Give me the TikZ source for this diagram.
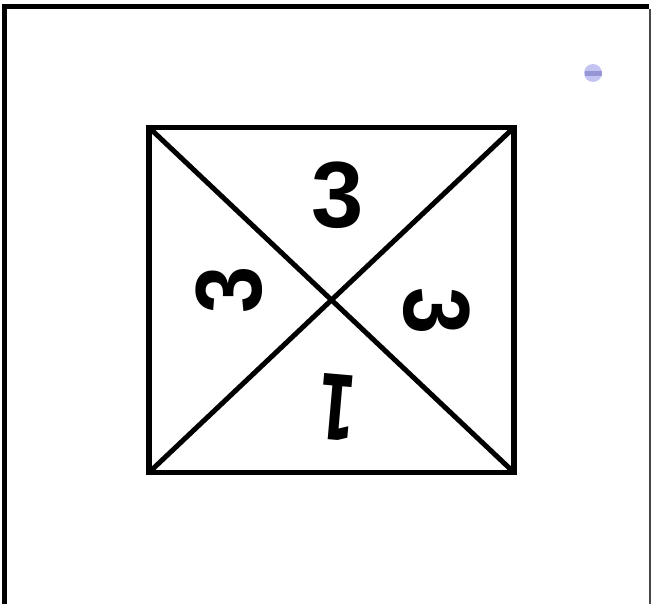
\documentclass[tikz,border=0pt]{standalone}
\usepackage{fontspec}
\usetikzlibrary{calc}
\newfontfamily\digitfont{Liberation Sans}
\newfontfamily\onefont{DejaVu Sans}
\definecolor{dotblue}{RGB}{196,196,242}
\definecolor{dotband}{RGB}{150,150,214}
\definecolor{edgegray}{RGB}{70,70,70}

\begin{document}
\begin{tikzpicture}[x=1pt,y=-1pt]
  \useasboundingbox (0,0) rectangle (651,604);
  \tikzset{digit/.style={inner sep=0pt,
      font=\digitfont\bfseries\fontsize{94}{94}\selectfont},
    onedigit/.style={inner sep=0pt,
      font=\onefont\bfseries\fontsize{90}{90}\selectfont}}
  % Frame
  \draw[line width=5.5pt] (4.7,604) -- (4.7,6.7) -- (649,6.7);
  \draw[edgegray,line width=1.2pt] (650,9) -- (650,604);
  % Marker dot
  \fill[dotblue] (593,73) circle (9);
  \fill[dotband] (584.5,71) rectangle (601.5,76);
  % Square with diagonals
  \coordinate (tl) at (149,127.5);
  \coordinate (tr) at (514,127.5);
  \coordinate (br) at (514,472.5);
  \coordinate (bl) at (149,472.5);
  \draw[line width=5.5pt] (tl) -- (tr) -- (br) -- (bl) -- cycle;
  \draw[line width=5pt] (tl) -- (br);
  \draw[line width=5pt] (tr) -- (bl);
  % Labels
  \node[digit] (top) at (338,195) {3};
  \node[digit,rotate=90] (left) at (229,290) {\scalebox{.9}[1]{3}};
  \node[digit,rotate=-90] (right) at (437,311) {\scalebox{.9}[1]{3}};
  \node[onedigit,rotate=175] (bottom) at (337,407) {\scalebox{.62}[1]{1}};
\end{tikzpicture}
\end{document}
